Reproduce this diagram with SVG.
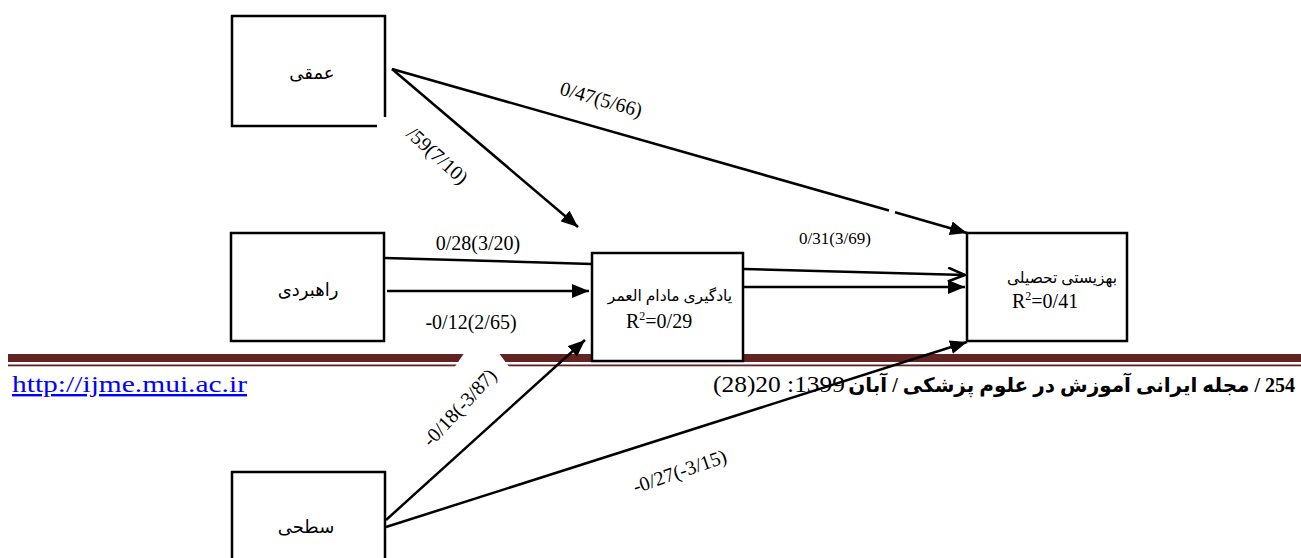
<svg xmlns="http://www.w3.org/2000/svg" width="1301" height="558" viewBox="0 0 1301 558">
<style>
.box{fill:#fff;stroke:#000;stroke-width:2.5}
.ln{fill:none;stroke:#000;stroke-width:2.5}
.nt{font-family:"Liberation Serif","DejaVu Sans",serif;font-size:18px;fill:#000;text-anchor:middle}
.lb{font-family:"Liberation Serif",serif;font-size:20px;fill:#000;text-anchor:middle}
.r2{font-family:"Liberation Serif",serif;font-size:20px;fill:#000}
</style>
<defs>
<marker id="ah" markerUnits="userSpaceOnUse" markerWidth="18" markerHeight="14" refX="17" refY="7" orient="auto">
<path d="M0,0 L17,7 L0,14 Z" fill="#000"/>
</marker>
<marker id="oh" markerUnits="userSpaceOnUse" markerWidth="20" markerHeight="16" refX="18" refY="8" orient="auto">
<path d="M1,1 L18,8 L1,15" fill="none" stroke="#000" stroke-width="2.5"/>
</marker>
</defs>
<g id="page-band">
<rect x="8" y="354" width="1293" height="8" fill="#622423"/>
<rect x="8" y="364.5" width="1293" height="1.8" fill="#622423"/>
</g>
<g id="footer">
<text x="12" y="392" font-family="Liberation Serif,serif" font-size="24" fill="#0000ff" text-decoration="underline" textLength="235" lengthAdjust="spacingAndGlyphs">http://ijme.mui.ac.ir</text>
<text x="1295" y="392" direction="rtl" text-anchor="start" font-family="Liberation Serif,DejaVu Sans,serif" font-size="20" font-weight="bold" fill="#000">254 / مجله ایرانی آموزش در علوم پزشکی / آبان</text>
<text x="713" y="392" text-anchor="start" font-family="Liberation Serif,serif" font-size="23" fill="#000" textLength="132" lengthAdjust="spacingAndGlyphs">(28)20 :1399</text>
</g>
<polygon points="465,352 498,352 510,368 454,368" fill="#fff"/>
<g id="connectors">
<path class="ln" d="M392,69 L889,210.5 M895,212.2 L967,233" marker-end="url(#ah)"/>
<path class="ln" d="M392,69 L578,227" marker-end="url(#ah)"/>
<path class="ln" d="M385,258 L592,264"/>
<path class="ln" d="M387,291 L589,291" marker-end="url(#ah)"/>
<path class="ln" d="M744,269 L965,275" marker-end="url(#oh)"/>
<path class="ln" d="M744,287 L965,287" marker-end="url(#ah)"/>
<path class="ln" d="M386,520 L585,340" marker-end="url(#ah)"/>
<path class="ln" d="M386,527 L967,342" marker-end="url(#ah)"/>
</g>
<g id="node-amighi">
<path class="box" d="M385,117 L385,16 L232,16 L232,126 L377,126"/>
<text class="nt" x="312" y="79" direction="rtl">عمقی</text>
</g>
<g id="node-rahbordi">
<rect class="box" x="231" y="233" width="153" height="108"/>
<text class="nt" x="308" y="296" direction="rtl">راهبردی</text>
</g>
<g id="node-sathi">
<rect class="box" x="232" y="472" width="153" height="100"/>
<text class="nt" x="306" y="533" direction="rtl">سطحی</text>
</g>
<g id="node-lifelong">
<rect class="box" x="592" y="253" width="151" height="108"/>
<text class="nt" x="670" y="301" direction="rtl" style="font-size:15.5px">یادگیری مادام العمر</text>
<text class="r2" x="626" y="328">R<tspan font-size="12" dy="-8">2</tspan><tspan dy="8">=0/29</tspan></text>
</g>
<g id="node-wellbeing">
<rect class="box" x="967" y="233" width="160" height="108"/>
<text class="nt" x="1062" y="283" direction="rtl" style="font-size:15.5px">بهزیستی تحصیلی</text>
<text class="r2" x="1012" y="308">R<tspan font-size="12" dy="-8">2</tspan><tspan dy="8">=0/41</tspan></text>
</g>
<g id="labels">
<text class="lb" x="601" y="106" transform="rotate(16 601 100)">0/47(5/66)</text>
<text class="lb" x="437" y="162" transform="rotate(42 437 156)">/59(7/10)</text>
<text class="lb" x="478" y="250">0/28(3/20)</text>
<text class="lb" x="471" y="329">-0/12(2/65)</text>
<text class="lb" x="835" y="244" style="font-size:17px">0/31(3/69)</text>
<text class="lb" x="460" y="414" transform="rotate(-47 460 408)">-0/18(-3/87)</text>
<text class="lb" x="680" y="478" transform="rotate(-19 680 472)">-0/27(-3/15)</text>
</g>
</svg>
